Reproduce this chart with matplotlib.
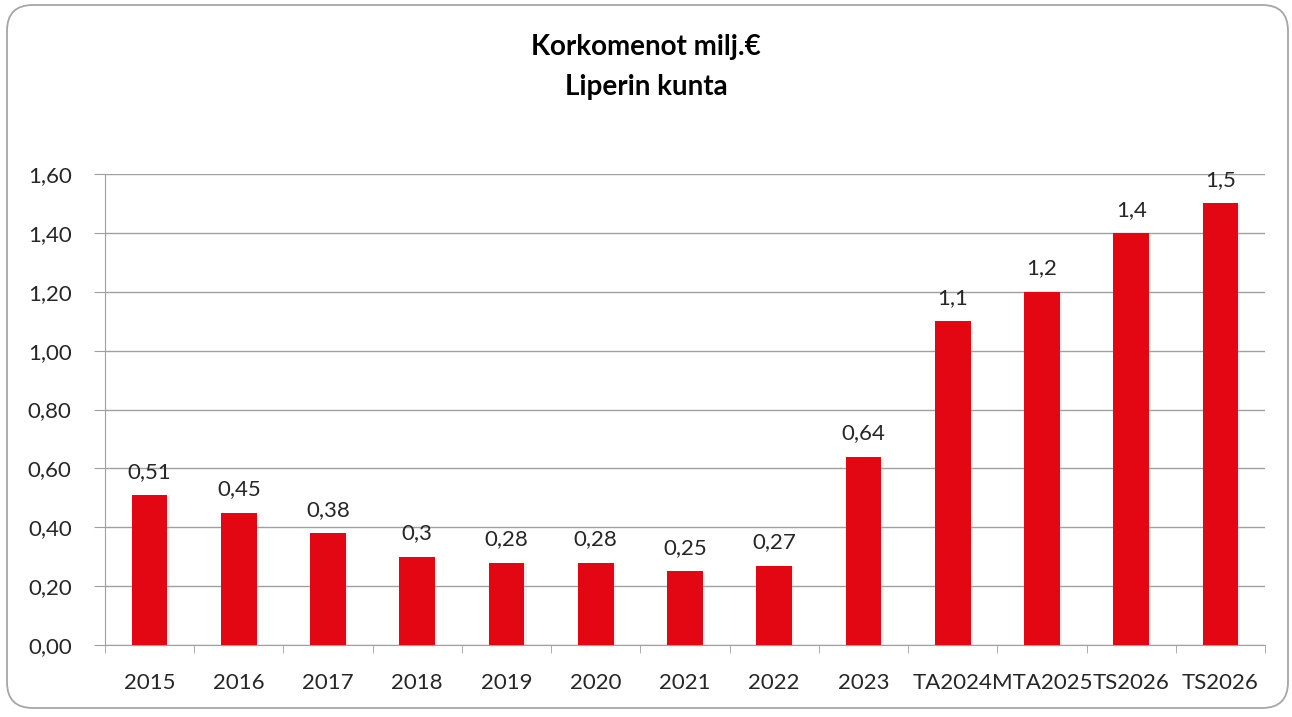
import matplotlib.pyplot as plt
from matplotlib.patches import FancyBboxPatch
import numpy as np

categories = ['2015', '2016', '2017', '2018', '2019', '2020', '2021', '2022',
              '2023', 'TA2024', 'MTA2025', 'TS2026', 'TS2026']
values = [0.51, 0.45, 0.38, 0.30, 0.28, 0.28, 0.25, 0.27, 0.64, 1.1, 1.2, 1.4, 1.5]
labels = ['0,51', '0,45', '0,38', '0,3', '0,28', '0,28', '0,25', '0,27',
          '0,64', '1,1', '1,2', '1,4', '1,5']

plt.rcParams['font.family'] = ['Lato', 'DejaVu Sans']

fig = plt.figure(figsize=(12.92, 7.17), dpi=100)

# rounded chart border
frame = FancyBboxPatch((7 / 1292, 9 / 717), 1281 / 1292, 703 / 717,
                       boxstyle='round,pad=0,rounding_size=0.02',
                       transform=fig.transFigure, fc='none', ec='#A6A6A6',
                       lw=1.3, mutation_aspect=1292 / 717, zorder=-1)
fig.patches.append(frame)

ax = fig.add_axes([105 / 1292, 1 - 645 / 717, 1160 / 1292, 471 / 717], zorder=2)
ax.set_facecolor('none')

x = np.arange(len(categories))
ax.bar(x + 0.025, values, width=0.4, color='#B0B0B0', alpha=0.2, zorder=2)
ax.bar(x, values, width=0.4, color='#E30613', zorder=3)

for xi, v, lab in zip(x, values, labels):
    ax.text(xi, v + 0.045, lab, ha='center', va='bottom', fontsize=16, color='#262626')

ax.set_xlim(-0.5, len(categories) - 0.5)
ax.set_ylim(0, 1.6)
yt = np.arange(0, 1.61, 0.2)
ax.set_yticks(yt)
ax.set_yticklabels([f'{t:.2f}'.replace('.', ',') for t in yt], fontsize=16, color='#262626')
ax.yaxis.grid(True, color='#A0A0A0', lw=1, zorder=1)
ax.set_axisbelow(True)

ax.set_xticks(x)
ax.set_xticklabels(categories, fontsize=16, color='#262626')
ax.tick_params(axis='x', length=0, pad=20)
ax.set_xticks(np.arange(-0.5, len(categories)), minor=True)
ax.tick_params(axis='x', which='minor', length=6, color='#A0A0A0')
ax.tick_params(axis='y', length=8, color='#A0A0A0', pad=16)

for s in ['top', 'right']:
    ax.spines[s].set_visible(False)
ax.spines['left'].set_color('#A0A0A0')
ax.spines['bottom'].set_color('#A0A0A0')

fig.text(0.5, 1 - 47 / 717, 'Korkomenot milj.€', ha='center', va='center',
         fontsize=20, fontweight='bold', color='black')
fig.text(0.5, 1 - 87 / 717, 'Liperin kunta', ha='center', va='center',
         fontsize=20, fontweight='bold', color='black')

fig.savefig('out.png', dpi=100)
